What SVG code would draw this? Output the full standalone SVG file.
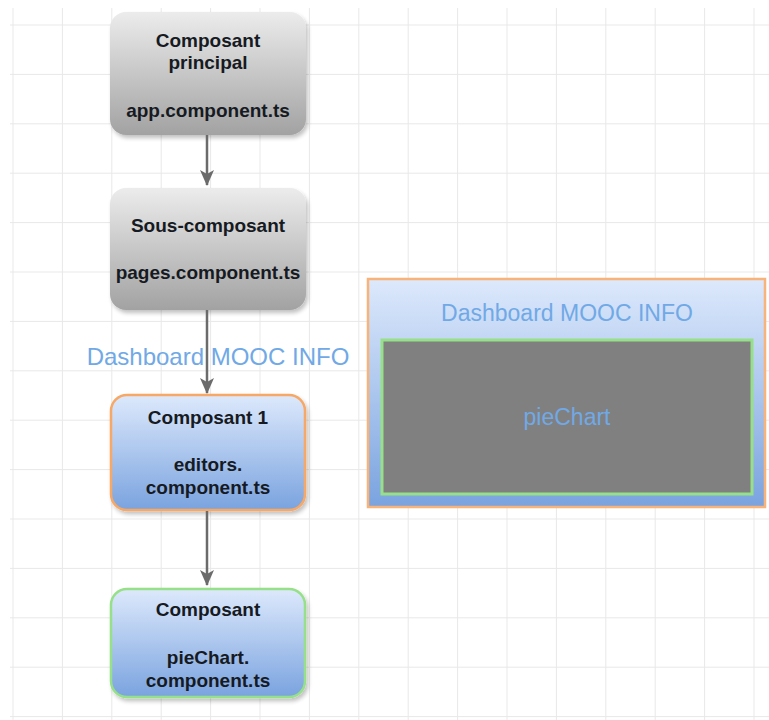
<svg xmlns="http://www.w3.org/2000/svg" width="769" height="720" viewBox="0 0 769 720">
  <style>
    .t { font-family: "Liberation Sans", Arial, sans-serif; font-size: 19px; font-weight: bold; fill: #161a22; text-anchor: middle; }
    .lbl { font-family: "Liberation Sans", Arial, sans-serif; fill: #70a9e6; text-anchor: middle; }
    .conn { stroke: #6b6b6b; stroke-width: 2.5; fill: none; }
  </style>
  <defs>
    <pattern id="grid" x="12.5" y="24.5" width="49.4" height="49.4" patternUnits="userSpaceOnUse">
      <path d="M0 0.5H49.4M0.5 0V49.4" stroke="#e8e8e8" stroke-width="1" fill="none"/>
    </pattern>
    <linearGradient id="gGray" x1="0" y1="0" x2="0" y2="1">
      <stop offset="0" stop-color="#ececec"/>
      <stop offset="1" stop-color="#a2a2a2"/>
    </linearGradient>
    <linearGradient id="gBlue" x1="0" y1="0" x2="0" y2="1">
      <stop offset="0" stop-color="#dde9fc"/>
      <stop offset="1" stop-color="#7aa3df"/>
    </linearGradient>
    <filter id="sh" x="-10%" y="-10%" width="125%" height="130%">
      <feGaussianBlur in="SourceAlpha" stdDeviation="2"/>
      <feOffset dx="2" dy="3" result="b"/>
      <feComponentTransfer><feFuncA type="linear" slope="0.25"/></feComponentTransfer>
      <feMerge><feMergeNode/><feMergeNode in="SourceGraphic"/></feMerge>
    </filter>
    <marker id="arr" markerWidth="8" markerHeight="8" refX="7" refY="4" orient="auto" markerUnits="userSpaceOnUse" viewBox="0 0 8 8">
      <path d="M0 0 L8 4 L0 8 L2 4 Z" fill="#6b6b6b"/>
    </marker>
    <marker id="arrow" viewBox="0 0 16 14" refX="15" refY="7" markerWidth="16" markerHeight="14" orient="auto" markerUnits="userSpaceOnUse">
      <path d="M0 0 L16 7 L0 14 L4 7 Z" fill="#6b6b6b"/>
    </marker>
  </defs>

  <rect x="0" y="0" width="769" height="720" fill="#ffffff"/>
  <rect x="10" y="8" width="759" height="712" fill="url(#grid)"/>

  <g id="n1">
    <rect x="110" y="12" width="196" height="123" rx="16" fill="url(#gGray)" filter="url(#sh)"/>
    <text class="t" x="208" y="47">Composant</text>
    <text class="t" x="208" y="69">principal</text>
    <text class="t" x="208" y="117">app.component.ts</text>
  </g>

  <g id="n2">
    <rect x="110" y="188" width="196" height="122" rx="16" fill="url(#gGray)" filter="url(#sh)"/>
    <text class="t" x="208" y="232">Sous-composant</text>
    <text class="t" x="208" y="279">pages.component.ts</text>
  </g>

  <g id="n3">
    <rect x="111" y="395" width="194" height="115" rx="16" fill="url(#gBlue)" stroke="#f7a866" stroke-width="2.5" filter="url(#sh)"/>
    <text class="t" x="208" y="424">Composant 1</text>
    <text class="t" x="208" y="471">editors.</text>
    <text class="t" x="208" y="494">component.ts</text>
  </g>

  <g id="n4">
    <rect x="111" y="589" width="194" height="108" rx="16" fill="url(#gBlue)" stroke="#97e08a" stroke-width="2.5" filter="url(#sh)"/>
    <text class="t" x="208" y="616">Composant</text>
    <text class="t" x="208" y="664">pieChart.</text>
    <text class="t" x="208" y="687">component.ts</text>
  </g>

  <g id="label-dashboard">
    <text class="lbl" x="218" y="365" font-size="24">Dashboard MOOC INFO</text>
  </g>

  <g id="connectors">
    <line class="conn" x1="207" y1="135" x2="207" y2="185" marker-end="url(#arrow)"/>
    <line class="conn" x1="207" y1="310" x2="207" y2="393" marker-end="url(#arrow)"/>
    <line class="conn" x1="207" y1="511" x2="207" y2="585" marker-end="url(#arrow)"/>
  </g>

  <g id="panel">
    <rect x="368" y="279" width="397" height="228" fill="url(#gBlue)" stroke="#f7b37a" stroke-width="2.5"/>
    <text class="lbl" x="567" y="321" font-size="23">Dashboard MOOC INFO</text>
    <g id="piechart">
      <rect x="382" y="340" width="370" height="154" fill="#808080" stroke="#97e08a" stroke-width="3"/>
      <text class="lbl" x="567" y="425" font-size="23">pieChart</text>
    </g>
  </g>
</svg>
